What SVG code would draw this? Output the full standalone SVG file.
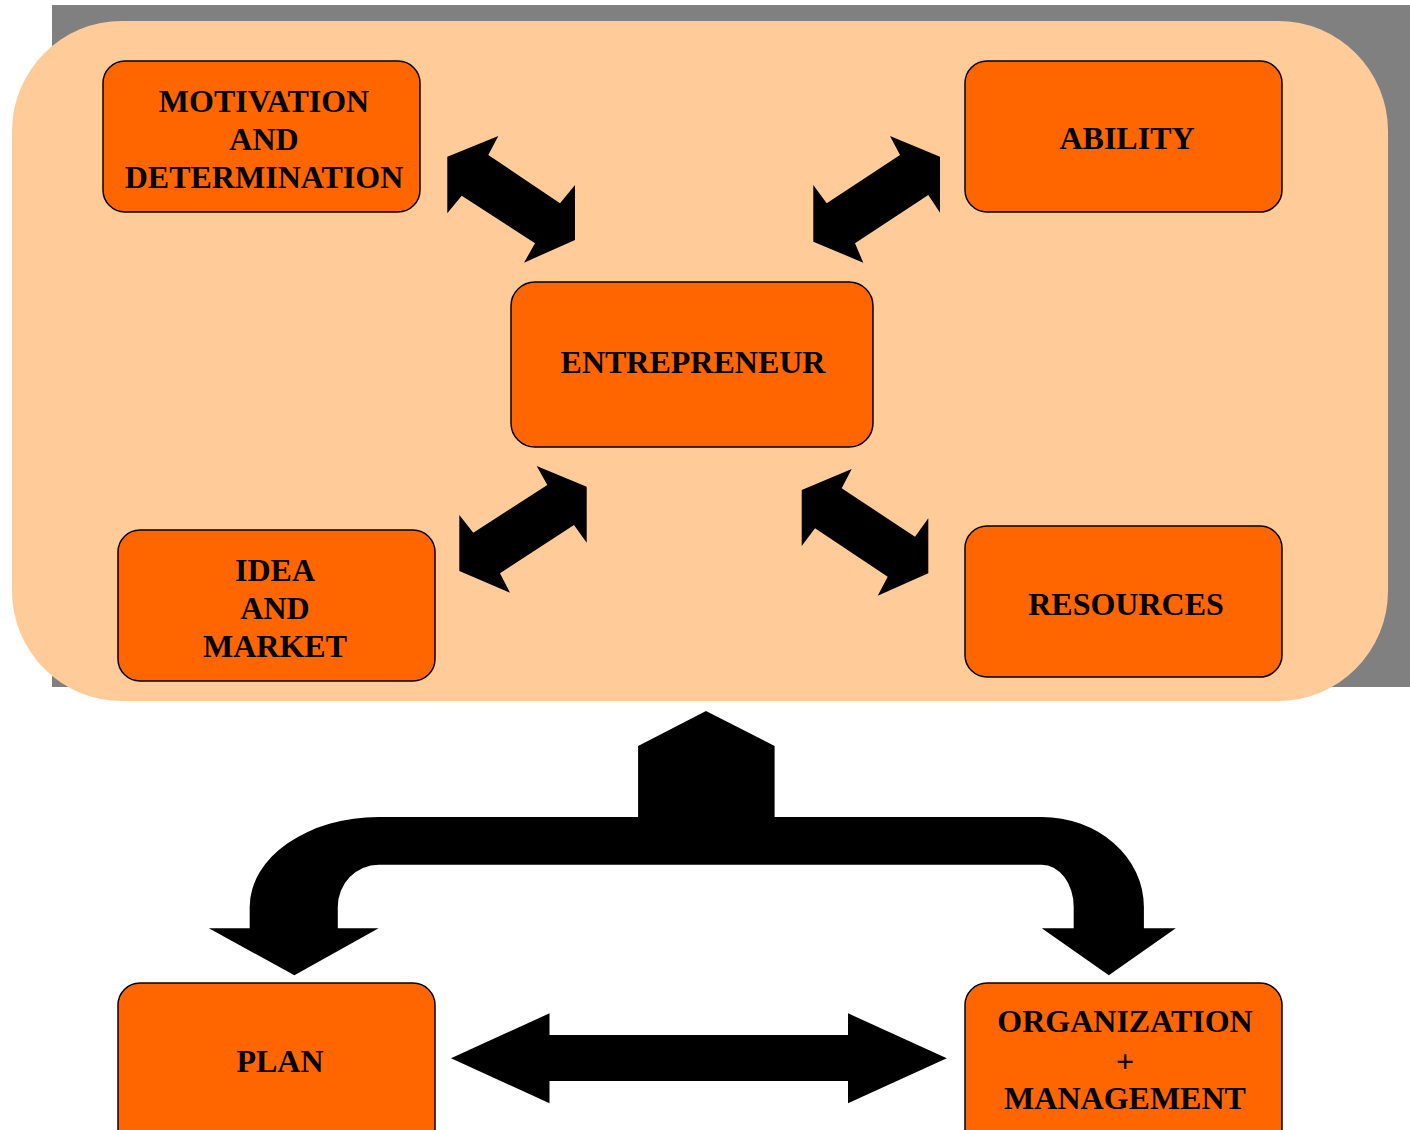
<svg xmlns="http://www.w3.org/2000/svg" width="1410" height="1130" viewBox="0 0 1410 1130">
<style>
.box{fill:#FF6600;stroke:#000;stroke-width:1.5}
.t{font-family:"Liberation Serif","Times New Roman",serif;font-weight:bold;font-size:32px;fill:#000;text-anchor:middle}
.arr{fill:#000}
</style>
<rect x="0" y="0" width="1410" height="1130" fill="#fff"/>
<rect x="52" y="5" width="1358" height="682" fill="#808080"/>
<rect x="12" y="21" width="1376" height="680" rx="110" ry="110" fill="#FFCC99"/>
<g id="connectors">
<polygon class="arr" points="447.3,156.7 498.3,136 488.3,155 560,203.3 575,185 575,240 524,262.7 535,243.3 461.7,195.7 447.3,213.3"/>
<polygon class="arr" points="890,136 940,156.7 940,212.7 928.3,195 855,243.3 863.3,262.7 813.3,241.7 813.3,185 826.7,203.3 900,155"/>
<polygon class="arr" points="536.7,466 586.7,486.7 586.7,542.7 574,525 500,573.3 510,592.7 459.3,571 459.3,515 473.3,532.7 547.3,485"/>
<polygon class="arr" points="851.7,469 841.7,488.3 915,536.7 928.3,518.3 928.3,573.3 877.7,595.7 887.7,576.7 815,528.3 801.7,546 801.7,490"/>
<path class="arr" d="M706,711 L774.6,746 L774.6,817 L1041.8,817 A102,90 0 0 1 1143.9,906.7 L1143.9,928.3 L1175.8,928.3 L1108.8,975.3 L1041.8,928.3 L1073.7,928.3 L1073.7,906.7 A32,42 0 0 0 1041.8,864.7 L378.6,864.7 A41,42 0 0 0 337.8,906.7 L337.8,928.3 L378.6,928.3 L294.4,975.3 L208.9,928.3 L249.7,928.3 L249.7,906.7 A129,90 0 0 1 378.6,817 L638.1,817 L638.1,746 Z"/>
<polygon class="arr" points="451,1058.3 549.5,1013.3 549.5,1035 848,1035 848,1013.3 946.8,1058.3 848,1103.3 848,1081 549.5,1081 549.5,1103.3"/>
</g>
<g id="motivation">
<rect class="box" x="103" y="61" width="317" height="151" rx="22"/>
<text class="t" x="264" y="112">MOTIVATION</text>
<text class="t" x="264" y="150">AND</text>
<text class="t" x="264" y="188">DETERMINATION</text>
</g>
<g id="ability">
<rect class="box" x="965" y="61" width="317" height="151" rx="22"/>
<text class="t" x="1127" y="149">ABILITY</text>
</g>
<g id="entrepreneur">
<rect class="box" x="511" y="282" width="362" height="165" rx="24"/>
<text class="t" x="693" y="373">ENTREPRENEUR</text>
</g>
<g id="idea">
<rect class="box" x="118" y="530" width="317" height="151" rx="22"/>
<text class="t" x="275" y="581">IDEA</text>
<text class="t" x="275" y="619">AND</text>
<text class="t" x="275" y="657">MARKET</text>
</g>
<g id="resources">
<rect class="box" x="965" y="526" width="317" height="151" rx="22"/>
<text class="t" x="1126" y="615">RESOURCES</text>
</g>
<g id="plan">
<rect class="box" x="118" y="983" width="317" height="170" rx="22"/>
<text class="t" x="280" y="1072">PLAN</text>
</g>
<g id="organization">
<rect class="box" x="965" y="983" width="317" height="170" rx="22"/>
<text class="t" x="1125" y="1032">ORGANIZATION</text>
<text class="t" x="1125" y="1072">+</text>
<text class="t" x="1125" y="1109">MANAGEMENT</text>
</g>
</svg>
